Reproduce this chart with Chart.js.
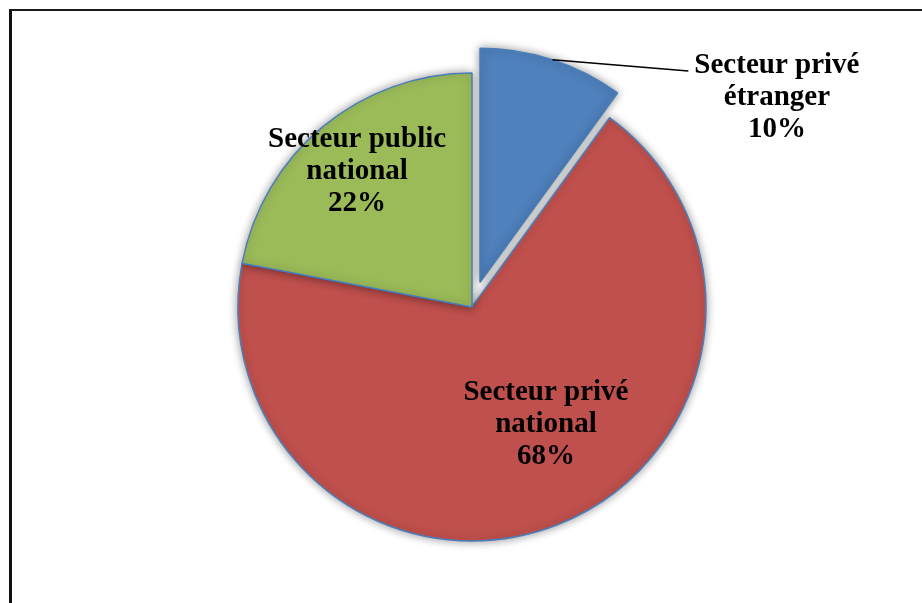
<!DOCTYPE html>
<html>
<head>
<meta charset="utf-8">
<script src="https://cdn.jsdelivr.net/npm/chart.js@4"></script>
<style>
    html, body { margin: 0; padding: 0; background: #fff; }
    #wrap { position: relative; width: 922px; height: 603px; overflow: hidden; }
    #frame { position: absolute; left: 9px; top: 9px; width: 1000px; height: 700px;
             border-top: 2px solid #1a1a1a; border-left: 3px solid #111; }
    canvas { position: absolute; left: 0; top: 0; }
</style>
</head>
<body>
<div id="wrap">
    <div id="frame"></div>
    <canvas id="chart" width="922" height="603"></canvas>
</div>
<script>
const categories = ['Secteur privé étranger', 'Secteur privé national', 'Secteur public national'];
const labelLines = [['Secteur privé', 'étranger'], ['Secteur privé', 'national'], ['Secteur public', 'national']];
const shares = [10, 68, 22];
const sliceColors = ['#4F81BD', '#C0504D', '#9BBB59'];

// pull a slice out along its middle angle, keeping its radius and angle
// (chart.js's own `offset` also grows and narrows the slice)
const explodePlugin = {
    id: 'explode',
    afterDatasetUpdate(chart, args, opts) {
        const arcs = chart.getDatasetMeta(0).data;
        arcs.forEach((arc, i) => {
            const d = opts.distance[i] || 0;
            if (!d) return;
            const mid = (arc.startAngle + arc.endAngle) / 2;
            arc.x += Math.cos(mid) * d;
            arc.y += Math.sin(mid) * d;
        });
    }
};

// soft shadow under the slices
const shadowPlugin = {
    id: 'sliceShadow',
    beforeDatasetDraw(chart) {
        const ctx = chart.ctx;
        ctx.save();
        ctx.shadowColor = 'rgba(0,0,0,0.4)';
        ctx.shadowBlur = 10;
        ctx.shadowOffsetX = 0;
        ctx.shadowOffsetY = 0;
    },
    afterDatasetDraw(chart) {
        chart.ctx.restore();
    }
};

// labels inside/outside the slices, placed relative to the pie centre
const labelPlugin = {
    id: 'sliceLabels',
    afterDatasetsDraw(chart, args, opts) {
        const ctx = chart.ctx;
        const arcs = chart.getDatasetMeta(0).data;
        const cx0 = arcs[1].x, cy0 = arcs[1].y;   // an un-exploded slice sits on the true centre
        ctx.save();
        ctx.font = 'bold 29px "Liberation Serif", "Times New Roman", serif';
        ctx.fillStyle = '#000';
        ctx.textAlign = 'center';
        ctx.textBaseline = 'middle';
        arcs.forEach((arc, i) => {
            const r = arc.outerRadius;
            const pos = opts.places[i];
            const cx = cx0 + pos[0] * r;
            const cy = cy0 + pos[1] * r;
            const lines = labelLines[i].concat([shares[i] + '%']);
            const lh = 32;
            lines.forEach((t, k) => {
                ctx.fillText(t, cx, cy + (k - (lines.length - 1) / 2) * lh);
            });
            if (opts.leader[i]) {
                const mid = (arc.startAngle + arc.endAngle) / 2;
                const sx = arc.x + Math.cos(mid) * r;
                const sy = arc.y + Math.sin(mid) * r;
                const w = ctx.measureText(lines[0]).width;
                ctx.beginPath();
                ctx.moveTo(sx, sy);
                ctx.lineTo(cx - w / 2 - 6, cy - lh + 6);
                ctx.strokeStyle = '#000';
                ctx.lineWidth = 1.5;
                ctx.stroke();
            }
        });
        ctx.restore();
    }
};

new Chart(document.getElementById('chart').getContext('2d'), {
    type: 'pie',
    data: {
        labels: categories,
        datasets: [{
            data: shares,
            backgroundColor: sliceColors,
            borderColor: '#4A7EBB',
            borderWidth: 1.5
        }]
    },
    options: {
        responsive: false,
        animation: false,
        radius: 234,
        layout: { padding: { top: 40, bottom: 29, left: 230, right: 208 } },
        plugins: {
            legend: { display: false },
            tooltip: { enabled: false },
            explode: { distance: [26, 0, 0] },
            sliceLabels: {
                places: [[1.303, -0.897], [0.316, 0.504], [-0.491, -0.581]],
                leader: [true, false, false]
            }
        }
    },
    plugins: [explodePlugin, shadowPlugin, labelPlugin]
});
</script>
</body>
</html>
